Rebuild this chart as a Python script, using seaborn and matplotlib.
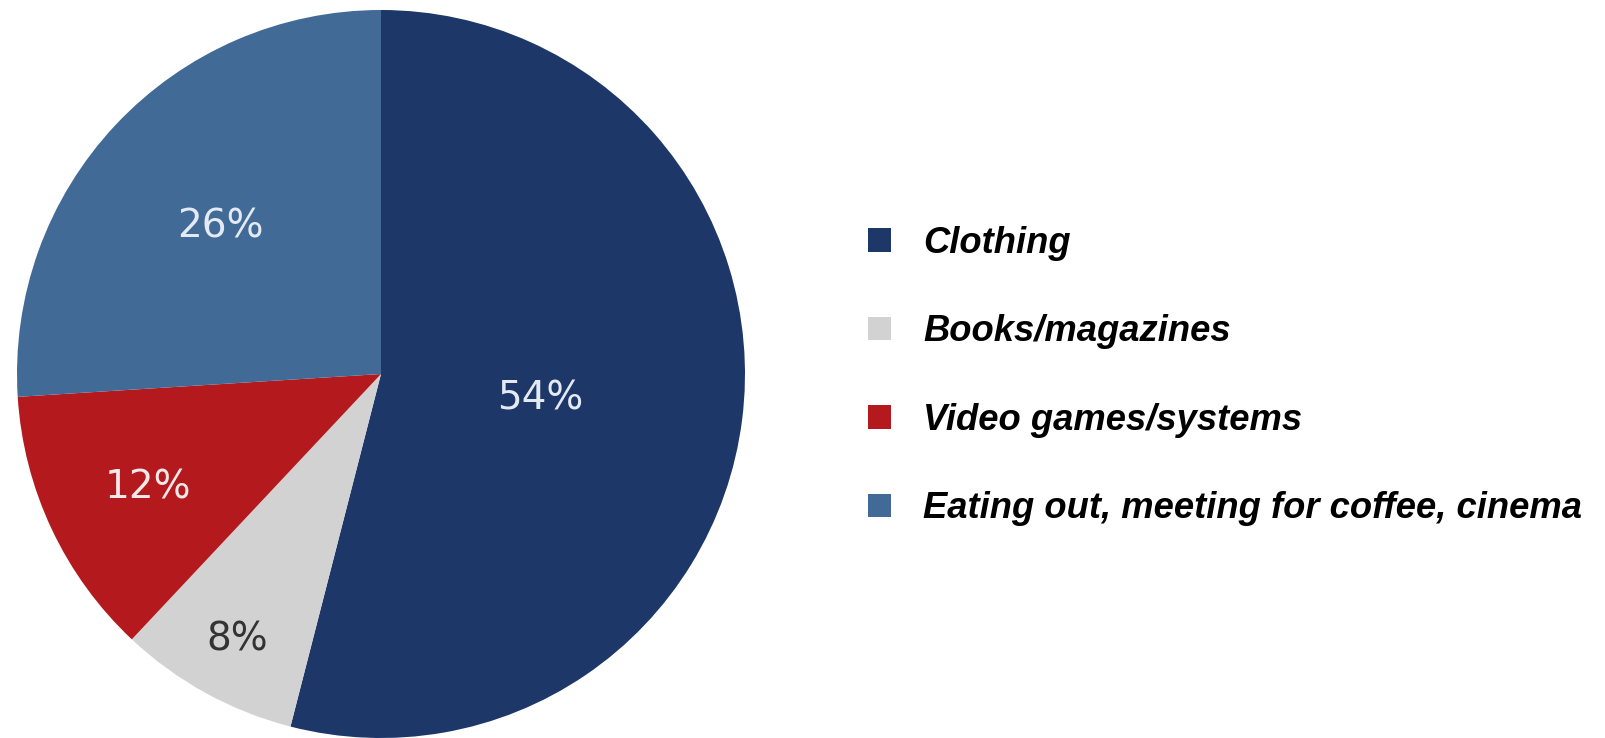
import numpy as np
import matplotlib
matplotlib.use("Agg")
import matplotlib.pyplot as plt
import seaborn as sns

# =========================
# DATA
# =========================

categories = ["Clothing", "Books/magazines", "Video games/systems",
              "Eating out, meeting for coffee, cinema"]
shares = [54, 8, 12, 26]

colors = ["#1d3768", "#d2d2d2", "#b3191d", "#426a97"]
label_colors = ["#e4eaf4", "#333333", "#f4e8e8", "#e4eaf4"]
label_dist = [0.44, 0.82, 0.708, 0.607]

# =========================
# FIGURE
# =========================

sns.set_theme(style="white")

fig = plt.figure(figsize=(16.06, 7.38), dpi=100)

ax = fig.add_axes([17 / 1606, 0, 728 / 1606, 728 / 738])

wedges, texts = ax.pie(
    shares,
    colors=colors,
    startangle=90,
    counterclock=False,
    radius=1,
    wedgeprops=dict(linewidth=0)
)

ax.set_xlim(-1, 1)
ax.set_ylim(-1, 1)
ax.set_aspect("auto")
ax.axis("off")

# percentage labels
for w, val, d, c in zip(wedges, shares, label_dist, label_colors):
    mid = np.deg2rad((w.theta1 + w.theta2) / 2)
    ax.text(d * np.cos(mid), d * np.sin(mid), f"{val}%",
            ha="center", va="center_baseline", fontsize=28,
            color=c, family="DejaVu Sans")

# legend
leg = fig.legend(
    wedges,
    categories,
    loc="center left",
    bbox_to_anchor=(868 / 1606, 1 - 376 / 738),
    frameon=False,
    prop=dict(family="Liberation Sans", weight="bold", style="italic", size=26.2),
    labelcolor="black",
    handlelength=0.62,
    handleheight=0.62,
    handletextpad=0.9,
    labelspacing=1.47,
    borderpad=0,
    borderaxespad=0
)

fig.savefig("out.png", dpi=100, facecolor="white")
